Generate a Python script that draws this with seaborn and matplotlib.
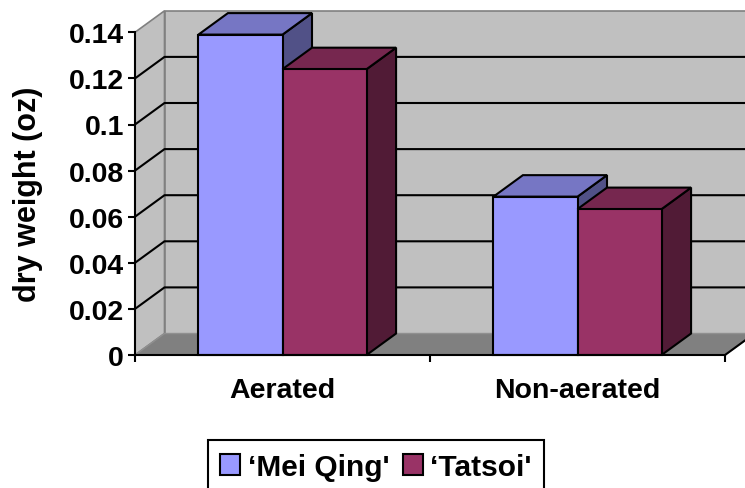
import matplotlib
matplotlib.use("Agg")
import matplotlib.pyplot as plt
from matplotlib.patches import Polygon, Patch
from matplotlib.lines import Line2D
import numpy as np
import pandas as pd
import seaborn as sns

# ---- data ----
treatments = ["Aerated", "Non-aerated"]
mei_qing = [0.139, 0.0687]
tatsoi = [0.124, 0.0633]
cultivars = ["\u2018Mei Qing'", "\u2018Tatsoi'"]
y_ticks = [0, 0.02, 0.04, 0.06, 0.08, 0.1, 0.12, 0.14]
y_tick_labels = ["0", "0.02", "0.04", "0.06", "0.08", "0.1", "0.12", "0.14"]
y_label = "dry weight (oz)"

df = pd.DataFrame({
    "treatment": treatments * 2,
    "cultivar": [cultivars[0]] * 2 + [cultivars[1]] * 2,
    "dry_weight": mei_qing + tatsoi,
})

front_colors = {cultivars[0]: "#9999FF", cultivars[1]: "#993366"}

def shade(hexc, f):
    r, g, b = matplotlib.colors.to_rgb(hexc)
    return (r * f, g * f, b * f)

sns.set_style("white")
plt.rcParams["font.family"] = ["Liberation Sans", "DejaVu Sans"]
plt.rcParams["font.weight"] = "bold"
for k in ["text.color", "axes.labelcolor", "xtick.color", "ytick.color"]:
    plt.rcParams[k] = "black"

W, H = 745, 489
fig = plt.figure(figsize=(W / 100, H / 100), dpi=100)
x0px, x1px, y0px, y1px = 135, 725, 356, 33.3
ax = fig.add_axes([x0px / W, (H - y0px) / H, (x1px - x0px) / W, (y0px - y1px) / H])
ax.set_facecolor("none")

sns.barplot(data=df, x="treatment", y="dry_weight", hue="cultivar",
            palette=front_colors, width=0.57, gap=0, saturation=1,
            edgecolor="black", linewidth=1.5, legend=False, ax=ax,
            errorbar=None)

YMAX = 0.14
ax.set_xlim(-0.5, 1.5)
ax.set_ylim(0, YMAX)

# depth offsets (data units)
DX = 29.5 / 295.0
DY = 21.5 / (y0px - y1px) * YMAX

wall_c = "#C0C0C0"
edge_grey = "#808080"
# left wall
ax.add_patch(Polygon([(-0.5, 0), (-0.5 + DX, DY), (-0.5 + DX, YMAX + DY), (-0.5, YMAX)],
                     closed=True, facecolor=wall_c, edgecolor=edge_grey, lw=1.2,
                     zorder=0.5, clip_on=False))
# back wall
ax.add_patch(Polygon([(-0.5 + DX, DY), (1.5 + DX, DY), (1.5 + DX, YMAX + DY), (-0.5 + DX, YMAX + DY)],
                     closed=True, facecolor=wall_c, edgecolor=edge_grey, lw=1.2,
                     zorder=0.5, clip_on=False))
# gridlines
for v in y_ticks[1:-1]:
    ax.add_line(Line2D([-0.5, -0.5 + DX, 1.5 + DX], [v, v + DY, v + DY],
                       color="black", lw=1.5, zorder=0.6, clip_on=False))
# floor
ax.add_patch(Polygon([(-0.5, 0), (1.5, 0), (1.5 + DX, DY), (-0.5 + DX, DY)],
                     closed=True, facecolor="#808080", edgecolor="#909090", lw=1.0,
                     zorder=0.7, clip_on=False))
ax.add_line(Line2D([1.5, 1.5 + DX], [0, DY], color="black", lw=1.5, zorder=0.8, clip_on=False))

# 3D bar tops and sides
for i, cont in enumerate(ax.containers):
    col = front_colors[cultivars[i]]
    for rect in cont.patches:
        bx = rect.get_x()
        bw = rect.get_width()
        bh = rect.get_height()
        base_z = 2 + 2 * i
        top = Polygon([(bx, bh), (bx + bw, bh), (bx + bw + DX, bh + DY), (bx + DX, bh + DY)],
                      closed=True, facecolor=shade(col, 0.77), edgecolor="black", lw=1.5,
                      zorder=base_z, clip_on=False, joinstyle="miter")
        side = Polygon([(bx + bw, 0), (bx + bw, bh), (bx + bw + DX, bh + DY), (bx + bw + DX, DY)],
                       closed=True, facecolor=shade(col, 0.53), edgecolor="black", lw=1.5,
                       zorder=base_z, clip_on=False, joinstyle="miter")
        ax.add_patch(side)
        ax.add_patch(top)
        rect.set_zorder(base_z + 1)
        rect.set_clip_on(False)

# spines
for s in ["top", "right"]:
    ax.spines[s].set_visible(False)
for s in ["left", "bottom"]:
    ax.spines[s].set_color("black")
    ax.spines[s].set_linewidth(1.5)
    ax.spines[s].set_zorder(10)

ax.set_yticks(y_ticks)
ax.set_yticklabels(y_tick_labels, fontsize=20.5, fontweight="bold", color="black")
ax.tick_params(axis="y", which="major", length=5, width=1.5, color="black",
               direction="out", pad=3, left=True)
ax.set_xticks([0, 1])
ax.set_xticklabels(treatments, fontsize=20.5, fontweight="bold", color="black")
ax.set_xticks([-0.5, 0.5, 1.5], minor=True)
ax.tick_params(axis="x", which="major", length=0, pad=16, bottom=True)
ax.tick_params(axis="x", which="minor", length=5, width=1.5, color="black",
               direction="out", bottom=True)
ax.set_xlabel("")
ax.set_ylabel(y_label, fontsize=22, fontweight="bold", color="black")
ax.yaxis.set_label_coords((43 - x0px) / (x1px - x0px), 0.5)

handles = [Patch(facecolor=front_colors[c], edgecolor="black", lw=1.5) for c in cultivars]
leg = fig.legend(handles, cultivars, loc="upper center",
                 bbox_to_anchor=(376 / W, 1 - 441 / H), ncol=2, frameon=True,
                 fancybox=False, framealpha=1, edgecolor="black",
                 prop={"size": 21.5, "weight": "bold"},
                 handlelength=0.67, handleheight=0.7, handletextpad=0.25,
                 columnspacing=0.45, borderpad=0.42, borderaxespad=0)
leg.get_frame().set_linewidth(1.5)
for t in leg.get_texts():
    t.set_color("black")

fig.savefig("out.png", dpi=100)
